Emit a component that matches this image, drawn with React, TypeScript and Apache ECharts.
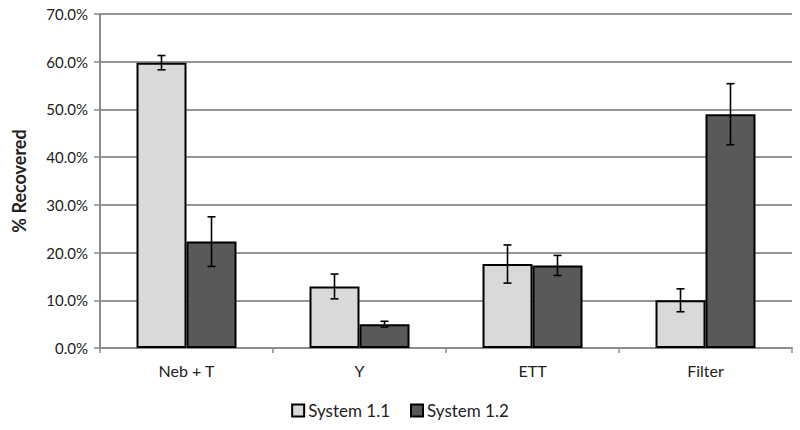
import React, { useEffect, useRef } from "react";
import * as echarts from "echarts";

const categories = ["Neb + T", "Y", "ETT", "Filter"];
const system11 = [59.8, 12.9, 17.6, 10.0];
const system12 = [22.3, 5.0, 17.3, 49.0];
const err11 = [1.5, 2.6, 4.0, 2.4];
const err12 = [5.2, 0.6, 2.1, 6.4];
const yTicks = [0, 10, 20, 30, 40, 50, 60, 70];

const FONT = "Lato, 'Open Sans', sans-serif";

export default function App() {
  const ref = useRef<HTMLDivElement>(null);
  useEffect(() => {
    document.body.style.margin = "0";
    const chart = echarts.init(ref.current!, null, { renderer: "svg" });
    const errSeries = (vals: number[], errs: number[], offset: number) => ({
      type: "custom",
      silent: true,
      z: 10,
      data: vals.map((v, i) => [i, v, errs[i]]),
      encode: { x: 0, y: 1 },
      renderItem: (params: any, api: any) => {
        const i = api.value(0);
        const v = api.value(1);
        const e = api.value(2);
        const hi = api.coord([i, v + e]);
        const lo = api.coord([i, v - e]);
        const x = hi[0] + offset;
        const cap = 4;
        const style = { stroke: "#000", lineWidth: 1.6 };
        return {
          type: "group",
          children: [
            { type: "line", shape: { x1: x, y1: hi[1], x2: x, y2: lo[1] }, style },
            { type: "line", shape: { x1: x - cap, y1: hi[1], x2: x + cap, y2: hi[1] }, style },
            { type: "line", shape: { x1: x - cap, y1: lo[1], x2: x + cap, y2: lo[1] }, style },
          ],
        };
      },
    });
    chart.setOption({
      animation: false,
      textStyle: { fontFamily: FONT },
      grid: { left: 100, right: 8, top: 14, bottom: 82, containLabel: false },
      legend: {
        data: ["System 1.1", "System 1.2"],
        bottom: 6,
        left: "center",
        icon: "rect",
        itemWidth: 12,
        itemHeight: 12,
        itemGap: 20,
        textStyle: { fontFamily: FONT, fontSize: 17, color: "#222", padding: [0, 0, 0, -1] },
      },
      xAxis: {
        type: "category",
        data: categories,
        axisLine: { lineStyle: { color: "#8c8c8c", width: 2 } },
        axisTick: { show: true, length: 5, lineStyle: { color: "#8c8c8c", width: 1.5 } },
        axisLabel: { fontFamily: FONT, fontSize: 16, color: "#222", margin: 14 },
      },
      yAxis: {
        type: "value",
        min: 0,
        max: 70,
        interval: 10,
        name: "% Recovered",
        nameLocation: "middle",
        nameGap: 72,
        nameTextStyle: { fontFamily: FONT, fontSize: 18, fontWeight: "bold", color: "#222" },
        axisLine: { show: true, lineStyle: { color: "#8c8c8c", width: 2 } },
        axisTick: { show: true, length: 6, lineStyle: { color: "#8c8c8c", width: 1.5 } },
        splitLine: { lineStyle: { color: "#969696", width: 2 } },
        axisLabel: {
          fontFamily: FONT,
          fontSize: 15,
          color: "#222",
          margin: 12,
          formatter: (v: number) => (yTicks.includes(v) ? v.toFixed(1) + "%" : ""),
        },
      },
      series: [
        {
          name: "System 1.1",
          type: "bar",
          data: system11,
          barWidth: 50,
          barGap: "0%",
          itemStyle: { color: "#d9d9d9", borderColor: "#000", borderWidth: 2 },
        },
        {
          name: "System 1.2",
          type: "bar",
          data: system12,
          barWidth: 50,
          barGap: "0%",
          itemStyle: { color: "#595959", borderColor: "#000", borderWidth: 2 },
        },
        errSeries(system11, err11, -25),
        errSeries(system12, err12, 25),
      ],
    });
    return () => chart.dispose();
  }, []);
  return <div ref={ref} style={{ width: 800, height: 430 }} />;
}
